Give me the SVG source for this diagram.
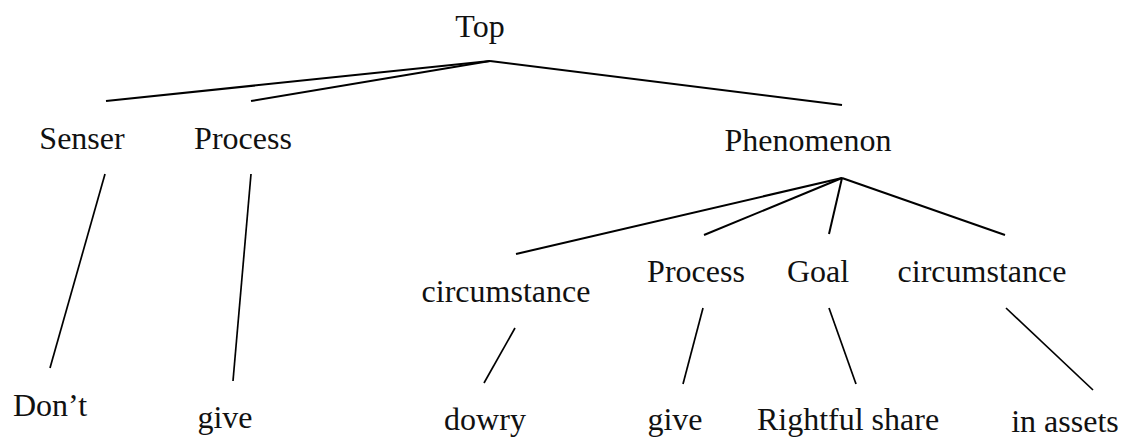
<svg xmlns="http://www.w3.org/2000/svg" width="1122" height="438" viewBox="0 0 1122 438">
  <style>
    .lbl { font-family: "Liberation Serif", "Times New Roman", serif; font-size: 32px; fill: #111; text-anchor: middle; }
    .edge { stroke: #000; stroke-width: 2; fill: none; stroke-linecap: butt; }
    .edge-thin { stroke: #000; stroke-width: 1.7; fill: none; }
  </style>
  <rect width="1122" height="438" fill="#fff"/>

  <!-- connectors -->
  <g id="connectors">
    <line class="edge" x1="490" y1="61" x2="106" y2="101"/>
    <line class="edge" x1="490" y1="61" x2="251" y2="101"/>
    <line class="edge" x1="490" y1="61" x2="842" y2="105"/>
    <line class="edge" x1="842" y1="178" x2="516" y2="254"/>
    <line class="edge" x1="842" y1="178" x2="704" y2="235"/>
    <line class="edge" x1="842" y1="178" x2="829" y2="234"/>
    <line class="edge" x1="842" y1="178" x2="1005" y2="235"/>
    <line class="edge-thin" x1="105" y1="174" x2="50" y2="368"/>
    <line class="edge-thin" x1="251" y1="174" x2="233" y2="381"/>
    <line class="edge-thin" x1="515" y1="328" x2="484" y2="383"/>
    <line class="edge-thin" x1="703" y1="308" x2="683" y2="384"/>
    <line class="edge-thin" x1="829" y1="308" x2="856" y2="384"/>
    <line class="edge-thin" x1="1006" y1="308" x2="1093" y2="390"/>
  </g>

  <!-- nodes -->
  <g id="n-top"><text class="lbl" x="480" y="37">Top</text></g>
  <g id="n-senser"><text class="lbl" x="82" y="149">Senser</text></g>
  <g id="n-process1"><text class="lbl" x="243" y="149">Process</text></g>
  <g id="n-phenomenon"><text class="lbl" x="808" y="151">Phenomenon</text></g>
  <g id="n-circ1"><text class="lbl" x="506" y="302">circumstance</text></g>
  <g id="n-process2"><text class="lbl" x="696" y="282">Process</text></g>
  <g id="n-goal"><text class="lbl" x="818" y="282">Goal</text></g>
  <g id="n-circ2"><text class="lbl" x="982" y="282">circumstance</text></g>
  <g id="n-dont"><text class="lbl" x="50" y="416">Don’t</text></g>
  <g id="n-give1"><text class="lbl" x="225" y="428">give</text></g>
  <g id="n-dowry"><text class="lbl" x="485" y="430">dowry</text></g>
  <g id="n-give2"><text class="lbl" x="675" y="430">give</text></g>
  <g id="n-share"><text class="lbl" x="848" y="430">Rightful share</text></g>
  <g id="n-assets"><text class="lbl" x="1065" y="432">in assets</text></g>
</svg>
